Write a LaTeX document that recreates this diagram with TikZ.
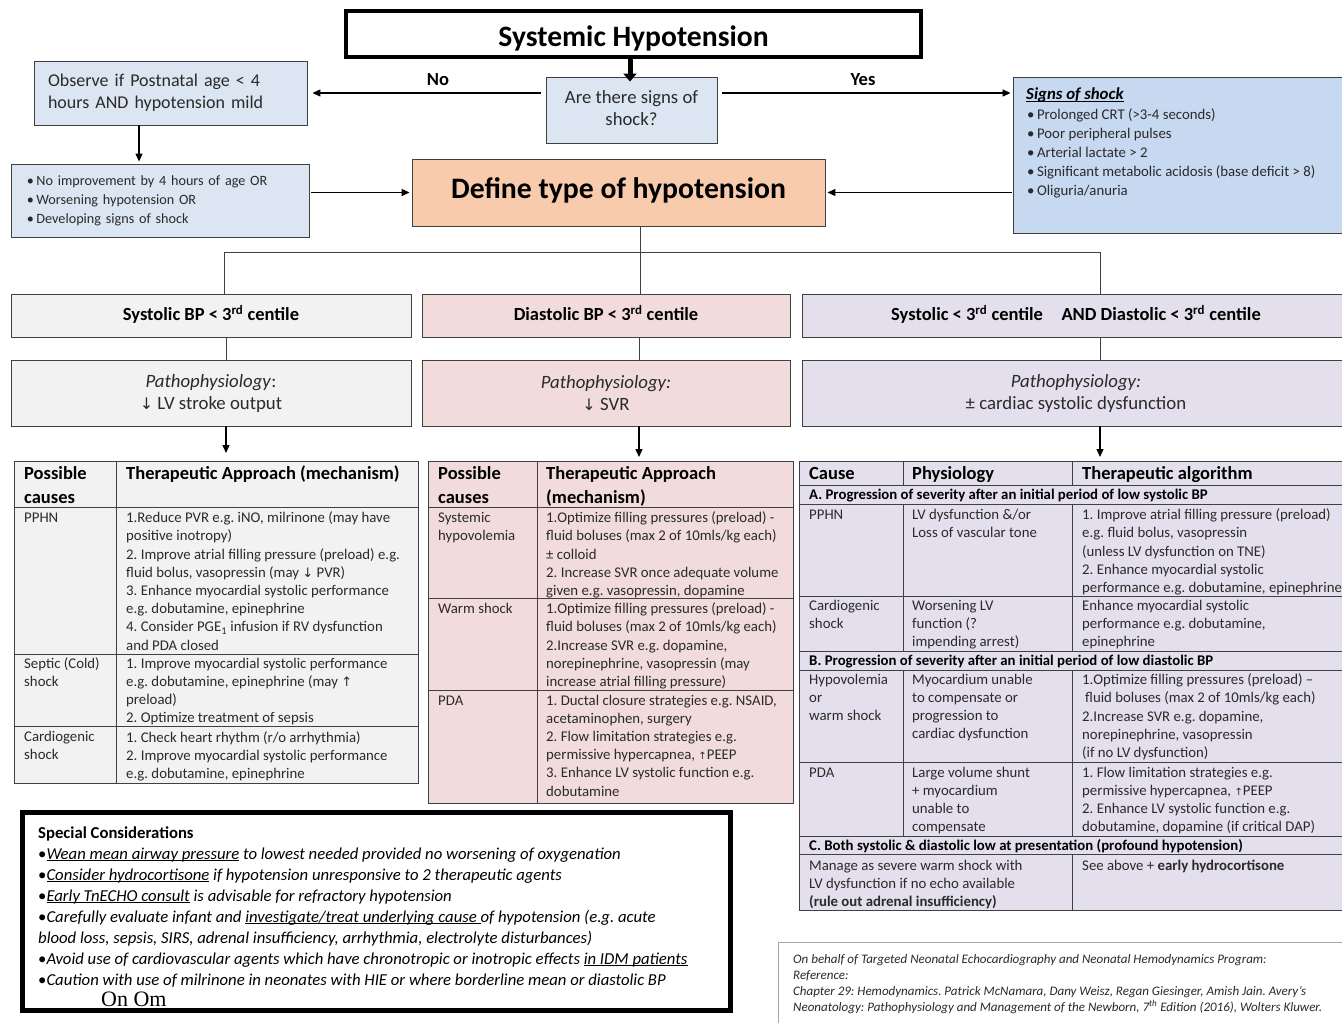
\documentclass[tikz,border=0pt]{standalone}
\usepackage{fontspec}
\setmainfont{Carlito}
\newfontfamily\arrf{DejaVu Sans}
\newfontfamily\serf{Liberation Serif}
\usetikzlibrary{arrows.meta,calc}
\definecolor{lblue}{HTML}{DCE6F2}
\definecolor{sblue}{HTML}{C6D9F1}
\definecolor{peach}{HTML}{F8CBAD}
\definecolor{lgray}{HTML}{F2F2F2}
\definecolor{lpink}{HTML}{F2DCDB}
\definecolor{lav}{HTML}{E4DFEC}
\definecolor{bord}{HTML}{404040}
\definecolor{txt}{HTML}{2A2A2A}
\frenchspacing
\newcommand\dnar{{\arrf\fontsize{13}{13}\selectfont ↓}}
\newcommand\dnbig{{\arrf\fontsize{16}{16}\selectfont ↓}}
\newcommand\upar{{\arrf\fontsize{13}{13}\selectfont ↑}}
\newcommand\upsm{{\arrf\fontsize{10}{10}\selectfont ↑}}
\newcommand\ulin[1]{\underline{\smash{#1}}}
\begin{document}
\begin{tikzpicture}[x=1pt,y=-1pt,
 box/.style={draw=bord,line width=0.9pt,inner sep=0pt,text=txt,align=center},
 conn/.style={draw=black,line width=1.3pt},
 arr/.style={conn,-{Triangle[length=8pt,width=7pt]}},
 thinln/.style={draw=bord,line width=1pt},
 grid/.style={draw=bord,line width=0.9pt},
 tb/.style={anchor=north west,inner sep=0pt,align=left,text=txt,font=\fontsize{14.8}{18.2}\selectfont,execute at begin node={\rule{0pt}{12.74pt}}},
 tbb/.style={tb,text=black,font=\fontsize{14.8}{18.2}\selectfont\bfseries},
 th/.style={anchor=north west,inner sep=0pt,align=left,text=black,font=\fontsize{18.5}{23.5}\selectfont\bfseries,execute at begin node={\rule{0pt}{16.45pt}}},
 bpbox/.style={box,minimum height=43,text height=14pt,text depth=4pt,text=black,font=\fontsize{18.5}{20}\selectfont\bfseries},
 pbox/.style={box,minimum height=66,font=\fontsize{18.8}{22}\selectfont},
]
\useasboundingbox (0,0) rectangle (1342,1023);
\clip (0,0) rectangle (1342,1023);
\fill[white] (0,0) rectangle (1342,1023);

% ---------- top part ----------
\node[draw=black,line width=4pt,fill=white,minimum width=575,minimum height=46,inner sep=0pt,
      text height=26pt,text depth=2pt,
      font=\fontsize{29.6}{32}\selectfont\bfseries] (title) at (633.5,34) {Systemic Hypotension};
\node[box,fill=lblue,minimum width=171,minimum height=66,font=\fontsize{18.7}{22}\selectfont] (q) at (631.5,110) {Are there signs of\\shock?\rule[-4pt]{0pt}{4pt}};
\node[box,fill=lblue,minimum width=273,minimum height=64,text width=245,align=left,font=\fontsize{18}{22}\selectfont] (obs) at (170.5,93) {Observe if Postnatal age < 4\\hours AND hypotension mild};
\node[box,fill=lblue,minimum width=298,minimum height=73,text width=266,align=left,font=\fontsize{14.2}{19}\selectfont] (cond) at (160,200.5) {•\,No improvement by 4 hours of age OR\\•\,Worsening hypotension OR\\•\,Developing signs of shock};
\node[box,fill=peach,minimum width=413,minimum height=67,text=black,text height=16pt,text depth=4pt,font=\fontsize{29.7}{32}\selectfont\bfseries] (define) at (618.5,192.5) {Define type of hypotension};
\node[box,fill=sblue,minimum width=337,minimum height=156] (signs) at (1181.5,155) {};
\node[anchor=base west,inner sep=0pt,text=black,font=\fontsize{16.8}{19}\selectfont\bfseries\itshape] (signsT) at (1026,99.5) {\ulin{Signs of shock}};
\node[tb,font=\fontsize{14.8}{19}\selectfont,execute at begin node={\rule{0pt}{13.3pt}}] (signsL) at (1027,108.6) {•\,Prolonged CRT (>3-4 seconds)\\•\,Poor peripheral pulses\\•\,Arterial lactate > 2\\•\,Significant metabolic acidosis (base deficit > 8)\\•\,Oliguria/anuria};

\node[font=\fontsize{18.5}{20}\selectfont\bfseries,text=black,inner sep=0pt] (no) at (438,80) {No};
\node[font=\fontsize{18.5}{20}\selectfont\bfseries,text=black,inner sep=0pt] (yes) at (863,80) {Yes};

\draw[line width=5pt,-{Triangle[length=8pt,width=13pt]}] ([xshift=-3.5pt]title.south) -- ([xshift=-3.5pt,yshift=-5pt]title.south |- q.north);
\draw[arr,shorten <=5pt,shorten >=5pt] (q.west |- obs.east) -- (obs.east);
\draw[arr,shorten <=5pt,shorten >=2pt] (q.east |- obs.east) -- (signs.west |- obs.east);
\draw[arr,shorten >=2pt] ([xshift=-31.5pt]obs.south) -- ([xshift=-31.5pt]obs.south |- cond.north);
\draw[arr,shorten <=2pt,shorten >=2pt] (cond.east |- define.west) -- (define.west);
\draw[arr,shorten <=1pt,shorten >=2pt] (signs.west |- define.east) -- (define.east);

% ---------- branches ----------
\node[bpbox,fill=lgray,minimum width=400] (bp1) at (211,315.5) {Systolic BP < 3\textsuperscript{rd} centile};
\node[bpbox,fill=lpink,minimum width=368] (bp2) at (606,315.5) {Diastolic BP < 3\textsuperscript{rd} centile};
\node[bpbox,fill=lav,minimum width=548] (bp3) at (1076,315.5) {Systolic < 3\textsuperscript{rd} centile\quad AND Diastolic < 3\textsuperscript{rd} centile};

\node[pbox,fill=lgray,minimum width=400] (p1) at (211,393) {\textit{Pathophysiology}:\\\dnbig\ LV stroke output};
\node[pbox,fill=lpink,minimum width=368] (p2) at (606,393) {\textit{Pathophysiology:}\\\dnbig\ SVR};
\node[pbox,fill=lav,minimum width=548] (p3) at (1076,393) {\textit{Pathophysiology:}\\± cardiac systolic dysfunction};

\coordinate (jl) at (224,252);
\coordinate (jc) at (640,252);
\coordinate (jr) at (1100,252);
\draw[thinln] (define.south -| jc) -- (jc);
\draw[thinln] (jl) -- (jr);
\draw[thinln] (jl) -- (jl |- bp1.north);
\draw[thinln] (jc) -- (jc |- bp2.north);
\draw[thinln] (jr) -- (jr |- bp3.north);
\draw[thinln] ([xshift=15pt]bp1.south) -- ([xshift=15pt]p1.north);
\draw[thinln] ([xshift=33pt]bp2.south) -- ([xshift=33pt]p2.north);
\draw[thinln] ([xshift=24pt]bp3.south) -- ([xshift=24pt]p3.north);

\coordinate (T1) at (14,461);
\coordinate (T2) at (428,461);
\coordinate (T3) at (799,461);
\draw[arr,shorten >=8pt] ([xshift=15pt]p1.south) -- ([xshift=15pt]p1.south |- T1);
\draw[arr,shorten >=4pt] ([xshift=33pt]p2.south) -- ([xshift=33pt]p2.south |- T2);
\draw[arr,shorten >=4pt] ([xshift=24pt]p3.south) -- ([xshift=24pt]p3.south |- T3);

% ---------- left table ----------
\draw[grid,fill=lgray] (T1) rectangle (418,783);
\draw[grid] (116,461) -- (116,783);
\foreach \yy in {507,654,726} \draw[grid] (14,\yy) -- (418,\yy);
\node[th] (l-h1) at (24,466.6) {Possible\\causes};
\node[th] (l-h2) at (126,462.6) {Therapeutic Approach (mechanism)};
\node[tb] (l-c1) at (24,509.2) {PPHN};
\node[tb] (l-a1) at (126,511.7) {1.Reduce PVR e.g. iNO, milrinone (may have\\positive inotropy)\\2. Improve atrial filling pressure (preload) e.g.\\fluid bolus, vasopressin (may \dnar\ PVR)\\3. Enhance myocardial systolic performance\\e.g. dobutamine, epinephrine\\4. Consider PGE\textsubscript{1} infusion if RV dysfunction\\and PDA closed};
\node[tb] (l-c2) at (24,657.7) {Septic (Cold)\\shock};
\node[tb] (l-a2) at (126,657.7) {1. Improve myocardial systolic performance\\e.g. dobutamine, epinephrine (may \upar\\preload)\\2. Optimize treatment of sepsis};
\node[tb] (l-c3) at (24,731) {Cardiogenic\\shock};
\node[tb] (l-a3) at (126,731) {1. Check heart rhythm (r/o arrhythmia)\\2. Improve myocardial systolic performance\\e.g. dobutamine, epinephrine};

% ---------- centre table ----------
\draw[grid,fill=lpink] (T2) rectangle (793,803);
\draw[grid] (537,461) -- (537,803);
\foreach \yy in {507,598,690} \draw[grid] (428,\yy) -- (793,\yy);
\node[th] (m-h1) at (438,466.6) {Possible\\causes};
\node[th] (m-h2) at (546,466.6) {Therapeutic Approach\\(mechanism)};
\node[tb] (m-c1) at (438,511.7) {Systemic\\hypovolemia};
\node[tb] (m-a1) at (546,511.7) {1.Optimize filling pressures (preload) -\\fluid boluses (max 2 of 10mls/kg each)\\± colloid\\2. Increase SVR once adequate volume\\given e.g. vasopressin, dopamine};
\node[tb] (m-c2) at (438,600.2) {Warm shock};
\node[tb] (m-a2) at (546,602.7) {1.Optimize filling pressures (preload) -\\fluid boluses (max 2 of 10mls/kg each)\\2.Increase SVR e.g. dopamine,\\norepinephrine, vasopressin (may\\increase atrial filling pressure)};
\node[tb] (m-c3) at (438,692.2) {PDA};
\node[tb] (m-a3) at (546,694.7) {1. Ductal closure strategies e.g. NSAID,\\acetaminophen, surgery\\2. Flow limitation strategies e.g.\\permissive hypercapnea, \upsm PEEP\\3. Enhance LV systolic function e.g.\\dobutamine};

% ---------- right table ----------
\draw[grid,fill=lav] (T3) rectangle (1350,910);
\foreach \yy in {485,504,596,651,670,762,836,854} \draw[grid] (799,\yy) -- (1350,\yy);
\foreach \ya/\yb in {461/485,504/651,670/836} {\draw[grid] (903,\ya) -- (903,\yb); \draw[grid] (1072,\ya) -- (1072,\yb);}
\draw[grid] (1072,854) -- (1072,910);
\node[th] (r-h1) at (809,462.6) {Cause};
\node[th] (r-h2) at (912,462.6) {Physiology};
\node[th] (r-h3) at (1082,462.6) {Therapeutic algorithm};
\node[tbb] (r-A) at (809,486.2) {A. Progression of severity after an initial period of low systolic BP};
\node[tb] (r-c1) at (809,506.2) {PPHN};
\node[tb] (r-p1) at (912,508.7) {LV dysfunction \&/or\\Loss of vascular tone};
\node[tb] (r-a1) at (1082,508.7) {1. Improve atrial filling pressure (preload)\\e.g. fluid bolus, vasopressin\\(unless LV dysfunction on TNE)\\2. Enhance myocardial systolic\\performance e.g. dobutamine, epinephrine};
\node[tb] (r-c2) at (809,600) {Cardiogenic\\shock};
\node[tb] (r-p2) at (912,600) {Worsening LV\\function (?\\impending arrest)};
\node[tb] (r-a2) at (1082,600) {Enhance myocardial systolic\\performance e.g. dobutamine,\\epinephrine};
\node[tbb] (r-B) at (809,652.2) {B. Progression of severity after an initial period of low diastolic BP};
\node[tb] (r-c3) at (809,673.7) {Hypovolemia\\or\\warm shock};
\node[tb] (r-p3) at (912,673.7) {Myocardium unable\\to compensate or\\progression to\\cardiac dysfunction};
\node[tb] (r-a3) at (1082,673.7) {1.Optimize filling pressures (preload) –\\\hspace{3pt}fluid boluses (max 2 of 10mls/kg each)\\2.Increase SVR e.g. dopamine,\\norepinephrine, vasopressin\\(if no LV dysfunction)};
\node[tb] (r-c4) at (809,764.2) {PDA};
\node[tb] (r-p4) at (912,766.7) {Large volume shunt\\+ myocardium\\unable to\\compensate};
\node[tb] (r-a4) at (1082,766.7) {1. Flow limitation strategies e.g.\\permissive hypercapnea, \upsm PEEP\\2. Enhance LV systolic function e.g.\\dobutamine, dopamine (if critical DAP)};
\node[tbb] (r-C) at (809,837.2) {C. Both systolic \& diastolic low at presentation (profound hypotension)};
\node[tb] (r-c5) at (809,859.7) {Manage as severe warm shock with\\LV dysfunction if no echo available\\\textbf{(rule out adrenal insufficiency)}};
\node[tb] (r-a5) at (1082,857.2) {See above + \textbf{early hydrocortisone}};

% ---------- special considerations ----------
\node[draw=black,line width=5pt,fill=white,minimum width=708,minimum height=198,inner sep=0pt] (spec) at (376.5,911.5) {};
\node[anchor=north west,inner sep=0pt,align=left,text=black,font=\fontsize{16.7}{21}\selectfont,execute at begin node={\rule{0pt}{14.7pt}}] (specT) at (38,826.3) {\textbf{Special Considerations}\\
•\textit{\ulin{Wean mean airway pressure} to lowest needed provided no worsening of oxygenation}\\
•\textit{\ulin{Consider hydrocortisone} if hypotension unresponsive to 2 therapeutic agents}\\
•\textit{\ulin{Early TnECHO consult} is advisable for refractory hypotension}\\
•\textit{Carefully evaluate infant and \ulin{investigate/treat underlying cause\ }of hypotension (e.g. acute}\\
\textit{blood loss, sepsis, SIRS, adrenal insufficiency, arrhythmia, electrolyte disturbances)}\\
•\textit{Avoid use of cardiovascular agents which have chronotropic or inotropic effects \ulin{in IDM patients}}\\
•\textit{Caution with use of milrinone in neonates with HIE or where borderline mean or diastolic BP}};
\node[anchor=west,inner sep=0pt,font=\serf\fontsize{22}{24}\selectfont] (onom) at (101,999) {On Om};

% ---------- reference box ----------
\node[draw=gray!70,line width=0.8pt,minimum width=572,minimum height=90,inner sep=0pt] (refbox) at (1064,987) {};
\node[anchor=north west,inner sep=0pt,align=left,text=txt,font=\fontsize{13}{16}\selectfont\itshape,execute at begin node={\rule{0pt}{11.2pt}}] (refT) at (793,954) {On behalf of Targeted Neonatal Echocardiography and Neonatal Hemodynamics Program:\\Reference:\\Chapter 29: Hemodynamics. Patrick McNamara, Dany Weisz, Regan Giesinger, Amish Jain. Avery’s\\Neonatology: Pathophysiology and Management of the Newborn, 7\textsuperscript{th} Edition (2016), Wolters Kluwer.};
\end{tikzpicture}
\end{document}
